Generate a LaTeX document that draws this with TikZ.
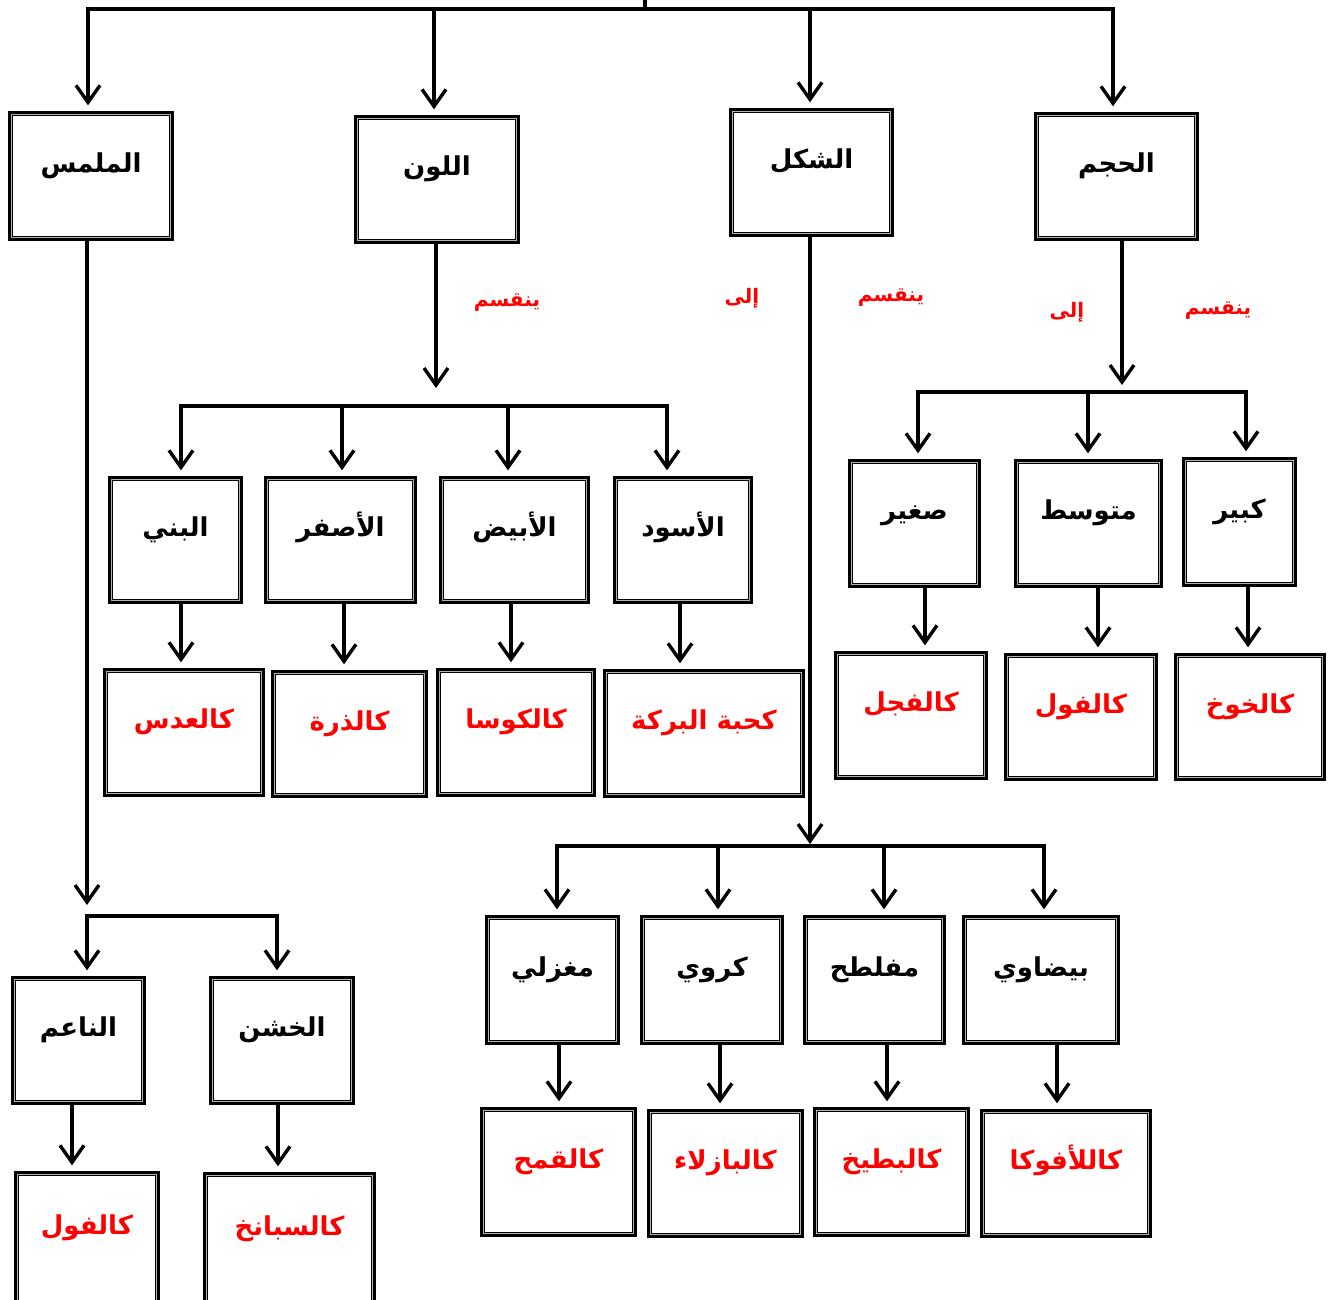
\documentclass[tikz,border=0pt]{standalone}
\usepackage{fontspec}
\usetikzlibrary{arrows.meta}
\newfontfamily\arabicfont[Script=Arabic]{DejaVu Sans}
\TeXXeTstate=1
\newcommand\artxt[1]{\arabicfont\bfseries\beginR #1\endR}
\definecolor{lblred}{RGB}{255,0,0}
\tikzset{
  box/.style={draw=black, line width=2.4pt, fill=white, inner sep=0pt,
    text height=21pt, text depth=29pt, font=\fontsize{26}{30}\selectfont,
    path picture={
      \draw[gray!60, line width=1.6pt]
        ([shift={(2pt,-2pt)}]path picture bounding box.north west) rectangle
        ([shift={(-2pt,2pt)}]path picture bounding box.south east);
      \draw[black, line width=0.9pt]
        ([shift={(3.2pt,-3.2pt)}]path picture bounding box.north west) rectangle
        ([shift={(-3.2pt,3.2pt)}]path picture bounding box.south east);
    }},
  catbox/.style={box, text=black},
  exbox/.style={box, text=lblred},
  ln/.style={line width=3.4pt, line cap=rect},
  arr/.style={line width=3.4pt, -{Straight Barb[length=17pt,width=24pt]}},
  tobox/.style={arr, shorten >=6pt},
  redlbl/.style={text=lblred, inner sep=0pt, font=\fontsize{20}{24}\selectfont},
}
\begin{document}
\begin{tikzpicture}[x=1pt,y=-1pt]
\fill[white] (0,0) rectangle (1335,1299);
\useasboundingbox (0,0) rectangle (1335,1299);

% ---- level 1
\node[catbox, minimum width=163pt, minimum height=127pt] (tML) at (91,176) {\artxt{الملمس}};
\node[catbox, minimum width=163pt, minimum height=126pt] (tLN) at (437,179.5) {\artxt{اللون}};
\node[catbox, minimum width=162pt, minimum height=126pt] (tSH) at (811.5,172.5) {\artxt{الشكل}};
\node[catbox, minimum width=162pt, minimum height=126pt] (tHJ) at (1116.5,176.5) {\artxt{الحجم}};

% ---- colour row
\node[catbox, minimum width=132pt, minimum height=125pt] (cBN) at (175.5,540) {\artxt{البني}};
\node[catbox, minimum width=150pt, minimum height=125pt] (cAS) at (340.5,540) {\artxt{الأصفر}};
\node[catbox, minimum width=148pt, minimum height=125pt] (cAB) at (514.5,540) {\artxt{الأبيض}};
\node[catbox, minimum width=137pt, minimum height=125pt] (cAW) at (683,540) {\artxt{الأسود}};

\node[exbox, minimum width=159pt, minimum height=126pt] (eAD) at (184,732.5) {\artxt{كالعدس}};
\node[exbox, minimum width=154pt, minimum height=125pt] (eDH) at (349.5,734) {\artxt{كالذرة}};
\node[exbox, minimum width=157pt, minimum height=126pt] (eKS) at (516,732.5) {\artxt{كالكوسا}};
\node[exbox, minimum width=199pt, minimum height=126pt] (eHB) at (704,733.5) {\artxt{كحبة البركة}};

% ---- size row
\node[catbox, minimum width=130pt, minimum height=126pt] (sSG) at (914.5,523.5) {\artxt{صغير}};
\node[catbox, minimum width=146pt, minimum height=126pt] (sMT) at (1088.5,523.5) {\artxt{متوسط}};
\node[catbox, minimum width=112pt, minimum height=127pt] (sKB) at (1239.5,522) {\artxt{كبير}};

\node[exbox, minimum width=151pt, minimum height=126pt] (eFJ) at (911,715.5) {\artxt{كالفجل}};
\node[exbox, minimum width=151pt, minimum height=125pt] (eFL) at (1081,717) {\artxt{كالفول}};
\node[exbox, minimum width=149pt, minimum height=125pt] (eKH) at (1250,717) {\artxt{كالخوخ}};

% ---- shape row
\node[catbox, minimum width=132pt, minimum height=127pt] (hMG) at (552.5,980) {\artxt{مغزلي}};
\node[catbox, minimum width=141pt, minimum height=127pt] (hKR) at (712,980) {\artxt{كروي}};
\node[catbox, minimum width=140pt, minimum height=127pt] (hMF) at (874.5,980) {\artxt{مفلطح}};
\node[catbox, minimum width=155pt, minimum height=127pt] (hBD) at (1041,980) {\artxt{بيضاوي}};

\node[exbox, minimum width=154pt, minimum height=127pt] (eQM) at (558.5,1172) {\artxt{كالقمح}};
\node[exbox, minimum width=154pt, minimum height=126pt] (eBZ) at (725.5,1173.5) {\artxt{كالبازلاء}};
\node[exbox, minimum width=154pt, minimum height=127pt] (eBT) at (891.5,1172) {\artxt{كالبطيخ}};
\node[exbox, minimum width=169pt, minimum height=126pt] (eAF) at (1066,1173.5) {\artxt{كاللأفوكا}};

% ---- texture row
\node[catbox, minimum width=132pt, minimum height=126pt] (xNA) at (78.5,1040.5) {\artxt{الناعم}};
\node[catbox, minimum width=143pt, minimum height=126pt] (xKH) at (282,1040.5) {\artxt{الخشن}};

\node[exbox, minimum width=143pt, minimum height=131pt] (eFL2) at (87,1238) {\artxt{كالفول}};
\node[exbox, minimum width=170pt, minimum height=131pt] (eSB) at (289.5,1239) {\artxt{كالسبانخ}};

% ---- red connecting words
\node[redlbl] (w1) at (507,303) {\artxt{ينقسم}};
\node[redlbl] (w2) at (742,298) {\artxt{إلى}};
\node[redlbl] (w3) at (891,298) {\artxt{ينقسم}};
\node[redlbl] (w4) at (1067,312) {\artxt{إلى}};
\node[redlbl] (w5) at (1218,311) {\artxt{ينقسم}};

% ---- top bar
\coordinate (root) at (645,0);
\coordinate (rb) at (645,9);
\coordinate (b1) at (88,9);
\coordinate (b2) at (434,9);
\coordinate (b3) at (810,9);
\coordinate (b4) at (1113,9);
\draw[ln] (root) -- (rb);
\draw[ln] (b1) -- (b4);
\draw[tobox] (b1) -- (b1 |- tML.north);
\draw[tobox] (b2) -- (b2 |- tLN.north);
\draw[tobox] (b3) -- (b3 |- tSH.north);
\draw[tobox] (b4) -- (b4 |- tHJ.north);

% ---- colour branch
\coordinate (lnEnd) at (436,388);
\draw[arr] (tLN.south -| lnEnd) -- (lnEnd);
\coordinate (c1) at (181,406);
\coordinate (c2) at (342,406);
\coordinate (c3) at (508,406);
\coordinate (c4) at (667,406);
\draw[ln] (c1) -- (c4);
\draw[tobox] (c1) -- (c1 |- cBN.north);
\draw[tobox] (c2) -- (c2 |- cAS.north);
\draw[tobox] (c3) -- (c3 |- cAB.north);
\draw[tobox] (c4) -- (c4 |- cAW.north);
\draw[tobox] (cBN.south -| 181,0) -- (eAD.north -| 181,0);
\draw[tobox] (cAS.south -| 344,0) -- (eDH.north -| 344,0);
\draw[tobox] (cAB.south -| 511,0) -- (eKS.north -| 511,0);
\draw[tobox] (cAW.south -| 680,0) -- (eHB.north -| 680,0);

% ---- size branch
\coordinate (hjEnd) at (1122,385);
\draw[arr] (tHJ.south -| hjEnd) -- (hjEnd);
\coordinate (s1) at (918,392);
\coordinate (s2) at (1088,392);
\coordinate (s3) at (1246,392);
\draw[ln] (s1) -- (s3);
\draw[tobox] (s1) -- (s1 |- sSG.north);
\draw[tobox] (s2) -- (s2 |- sMT.north);
\draw[tobox] (s3) -- (s3 |- sKB.north);
\draw[tobox] (sSG.south -| 925,0) -- (eFJ.north -| 925,0);
\draw[tobox] (sMT.south -| 1098,0) -- (eFL.north -| 1098,0);
\draw[tobox] (sKB.south -| 1248,0) -- (eKH.north -| 1248,0);

% ---- shape branch
\coordinate (shEnd) at (810,844);
\draw[arr] (tSH.south -| shEnd) -- (shEnd);
\coordinate (h1) at (557,846);
\coordinate (h2) at (718,846);
\coordinate (h3) at (884,846);
\coordinate (h4) at (1044,846);
\draw[ln] (h1) -- (h4);
\draw[tobox] (h1) -- (h1 |- hMG.north);
\draw[tobox] (h2) -- (h2 |- hKR.north);
\draw[tobox] (h3) -- (h3 |- hMF.north);
\draw[tobox] (h4) -- (h4 |- hBD.north);
\draw[tobox] (hMG.south -| 559,0) -- (eQM.north -| 559,0);
\draw[tobox] (hKR.south -| 720,0) -- (eBZ.north -| 720,0);
\draw[tobox] (hMF.south -| 887,0) -- (eBT.north -| 887,0);
\draw[tobox] (hBD.south -| 1057,0) -- (eAF.north -| 1057,0);

% ---- texture branch
\coordinate (mlEnd) at (87,905);
\draw[arr] (tML.south -| mlEnd) -- (mlEnd);
\coordinate (x1) at (87,916);
\coordinate (x2) at (277,916);
\draw[ln] (x1) -- (x2);
\draw[tobox] (x1) -- (x1 |- xNA.north);
\draw[tobox] (x2) -- (x2 |- xKH.north);
\draw[tobox] (xNA.south -| 72,0) -- (eFL2.north -| 72,0);
\draw[tobox] (xKH.south -| 278,0) -- (eSB.north -| 278,0);
\end{tikzpicture}
\end{document}
